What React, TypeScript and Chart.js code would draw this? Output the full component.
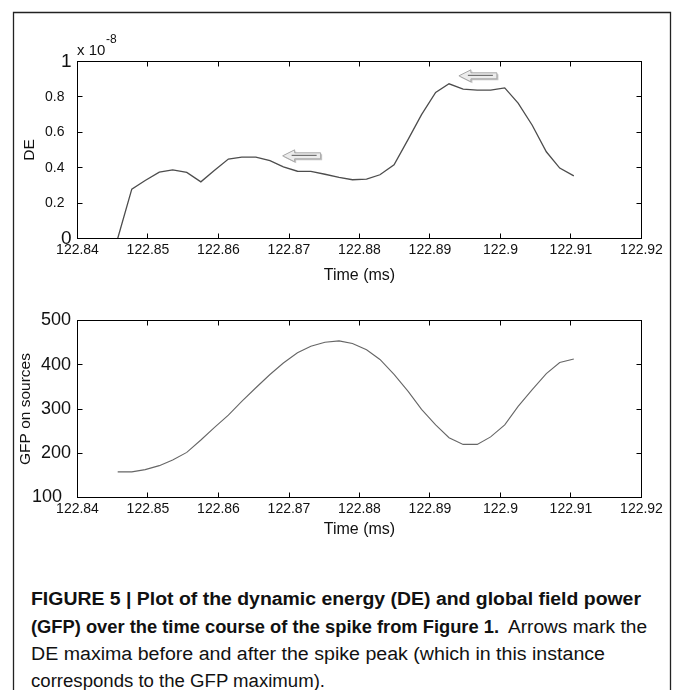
import React, { useEffect, useRef } from 'react';
import { Chart, registerables } from 'chart.js';

Chart.register(...registerables);

// ---- data ----
const timeMs = [
  122.8457, 122.8477, 122.8496, 122.8516, 122.8535, 122.8555, 122.8575, 122.8594,
  122.8614, 122.8633, 122.8653, 122.8673, 122.8692, 122.8712, 122.8731, 122.8751,
  122.8771, 122.879, 122.881, 122.8829, 122.8849, 122.8869, 122.8888, 122.8908,
  122.8927, 122.8947, 122.8967, 122.8986, 122.9006, 122.9025, 122.9045, 122.9065,
  122.9084, 122.9104,
];
// dynamic energy, in units of 1e-8
const deValues = [
  0, 0.279, 0.328, 0.375, 0.388, 0.373, 0.32, 0.384, 0.449, 0.46, 0.46, 0.44,
  0.405, 0.38, 0.379, 0.363, 0.345, 0.332, 0.335, 0.36, 0.416, 0.56, 0.7, 0.825,
  0.874, 0.844, 0.838, 0.838, 0.851, 0.765, 0.64, 0.49, 0.398, 0.354,
];
const gfpValues = [
  158, 158, 163, 172, 185, 202, 230, 258, 286, 317, 348, 378, 404, 427, 442, 451,
  454, 448, 434, 412, 378, 340, 299, 264, 235, 220, 220, 237, 264, 306, 344, 380,
  405, 413,
];
const xTickValues = [122.84, 122.85, 122.86, 122.87, 122.88, 122.89, 122.9, 122.91, 122.92];
const xTickLabels = ['122.84', '122.85', '122.86', '122.87', '122.88', '122.89', '122.9', '122.91', '122.92'];
const deTickValues = [0, 0.2, 0.4, 0.6, 0.8, 1];
const deTickLabels = ['0', '0.2', '0.4', '0.6', '0.8', '1'];
const gfpTickValues = [100, 200, 300, 400, 500];
const gfpTickLabels = ['100', '200', '300', '400', '500'];
// arrow tips (time, DE) marking the DE maxima
const deArrowTips = [
  [122.8691, 0.467],
  [122.8941, 0.919],
];

const FONT = '"Liberation Sans", Arial, Helvetica, sans-serif';
const EN = '\u2002';

const framePlugin = {
  id: 'matlabFrame',
  afterDatasetsDraw(chart: any) {
    const { ctx, chartArea: a, scales } = chart;
    const xs = scales.x;
    const ys = scales.y;
    ctx.save();
    ctx.strokeStyle = '#000';
    ctx.lineWidth = 1;
    ctx.strokeRect(a.left, a.top, a.right - a.left, a.bottom - a.top);
    ctx.beginPath();
    xs.ticks.forEach((t: any) => {
      const px = Math.floor(xs.getPixelForValue(t.value)) + 0.5;
      ctx.moveTo(px, a.bottom);
      ctx.lineTo(px, a.bottom - 5);
      ctx.moveTo(px, a.top);
      ctx.lineTo(px, a.top + 5);
    });
    ys.ticks.forEach((t: any) => {
      const py = Math.floor(ys.getPixelForValue(t.value)) + 0.5;
      ctx.moveTo(a.left, py);
      ctx.lineTo(a.left + 5, py);
      ctx.moveTo(a.right, py);
      ctx.lineTo(a.right - 5, py);
    });
    ctx.stroke();
    ctx.restore();
  },
};

function drawArrow(ctx: CanvasRenderingContext2D, tipX: number, cy: number) {
  const L = 38, head = 12, hh = 6, sh = 3;
  const shape = (dx: number, dy: number) => {
    ctx.beginPath();
    ctx.moveTo(tipX + dx, cy + dy);
    ctx.lineTo(tipX + head + dx, cy - hh + dy);
    ctx.lineTo(tipX + head + dx, cy - sh + dy);
    ctx.lineTo(tipX + L + dx, cy - sh + dy);
    ctx.lineTo(tipX + L + dx, cy + sh + dy);
    ctx.lineTo(tipX + head + dx, cy + sh + dy);
    ctx.lineTo(tipX + head + dx, cy + hh + dy);
    ctx.closePath();
  };
  ctx.save();
  shape(1.5, 1.5);
  ctx.fillStyle = '#c4c4c4';
  ctx.fill();
  shape(0, 0);
  ctx.fillStyle = '#ececec';
  ctx.fill();
  ctx.strokeStyle = '#a6a6a6';
  ctx.lineWidth = 1;
  ctx.stroke();
  ctx.beginPath();
  ctx.moveTo(tipX + 9, cy - 0.5);
  ctx.lineTo(tipX + L - 4, cy - 0.5);
  ctx.strokeStyle = '#5a5a5a';
  ctx.lineWidth = 1;
  ctx.stroke();
  ctx.restore();
}

const deExtrasPlugin = {
  id: 'deExtras',
  afterDraw(chart: any) {
    const { ctx, scales } = chart;
    ctx.save();
    ctx.fillStyle = '#111';
    ctx.textBaseline = 'alphabetic';
    ctx.textAlign = 'left';
    ctx.font = `15px ${FONT}`;
    ctx.fillText('x 10', 77, 55);
    ctx.font = `12px ${FONT}`;
    ctx.fillText('-8', 106, 43);
    ctx.restore();
    deArrowTips.forEach(([t, v]) => {
      drawArrow(ctx, scales.x.getPixelForValue(t), scales.y.getPixelForValue(v));
    });
  },
};

function makeConfig(p: {
  values: number[];
  yMin: number;
  yMax: number;
  yTicks: number[];
  yLabels: string[];
  yLabelText: (i: number) => string;
  yLabelSize: (i: number) => number;
  yTitle: string;
  yTitlePad: number;
  yLabelPad: number;
  padTop: number;
  xAxisHeight: number;
  lineColor: string;
  lineWidth: number;
  extra?: any[];
}): any {
  return {
    type: 'line',
    data: {
      datasets: [
        {
          data: timeMs.map((t, i) => ({ x: t, y: p.values[i] })),
          borderColor: p.lineColor,
          borderWidth: p.lineWidth,
          pointRadius: 0,
          tension: 0,
          fill: false,
        },
      ],
    },
    options: {
      responsive: false,
      animation: false,
      devicePixelRatio: 1,
      layout: { padding: { left: 0, top: p.padTop, right: 37.5, bottom: 0 } },
      plugins: { legend: { display: false }, tooltip: { enabled: false } },
      scales: {
        x: {
          type: 'linear',
          min: 122.84,
          max: 122.92,
          afterBuildTicks: (s: any) => {
            s.ticks = xTickValues.map((v) => ({ value: v }));
          },
          afterFit: (s: any) => {
            s.height = p.xAxisHeight;
          },
          grid: { display: false, drawTicks: false },
          border: { display: false },
          ticks: {
            autoSkip: false,
            maxRotation: 0,
            padding: 3,
            color: '#111',
            font: { family: FONT, size: 14 },
            callback: (_v: any, i: number) => xTickLabels[i],
          },
          title: {
            display: true,
            text: 'Time (ms)',
            color: '#111',
            font: { family: FONT, size: 16 },
            padding: { top: 0, bottom: 14.5 },
          },
        },
        y: {
          type: 'linear',
          min: p.yMin,
          max: p.yMax,
          afterBuildTicks: (s: any) => {
            s.ticks = p.yTicks.map((v) => ({ value: v }));
          },
          afterFit: (s: any) => {
            s.width = 77.5;
          },
          grid: { display: false, drawTicks: false },
          border: { display: false },
          ticks: {
            autoSkip: false,
            padding: p.yLabelPad,
            color: '#111',
            font: (c: any) => ({ family: FONT, size: p.yLabelSize(c.index) }),
            callback: (_v: any, i: number) => p.yLabelText(i),
          },
          title: {
            display: true,
            text: p.yTitle,
            color: '#111',
            font: { family: FONT, size: 15.5 },
            padding: { top: p.yTitlePad, bottom: 0 },
          },
        },
      },
    },
    plugins: [framePlugin, ...(p.extra || [])],
  };
}

export default function App() {
  const deRef = useRef<HTMLCanvasElement>(null);
  const gfpRef = useRef<HTMLCanvasElement>(null);

  useEffect(() => {
    const deLast = deTickLabels.length - 1;
    const c1 = new Chart(
      deRef.current as HTMLCanvasElement,
      makeConfig({
        values: deValues,
        yMin: 0,
        yMax: 1,
        yTicks: deTickValues,
        yLabels: deTickLabels,
        yLabelText: (i) => (i === 0 || i === deLast ? deTickLabels[i] : deTickLabels[i] + EN),
        yLabelSize: (i) => (i === 0 || i === deLast ? 19 : 14),
        yTitle: 'DE',
        yTitlePad: 20.5,
        yLabelPad: 6,
        padTop: 61.5,
        xAxisHeight: 61.5,
        lineColor: '#4d4d4d',
        lineWidth: 1.3,
        extra: [deExtrasPlugin],
      })
    );
    const c2 = new Chart(
      gfpRef.current as HTMLCanvasElement,
      makeConfig({
        values: gfpValues,
        yMin: 100,
        yMax: 500,
        yTicks: gfpTickValues,
        yLabels: gfpTickLabels,
        yLabelText: (i) => (i === 0 ? gfpTickLabels[i] + EN : gfpTickLabels[i]),
        yLabelSize: () => 18,
        yTitle: 'GFP on sources',
        yTitlePad: 16.5,
        yLabelPad: 6.5,
        padTop: 20.5,
        xAxisHeight: 56.5,
        lineColor: '#666',
        lineWidth: 1.1,
      })
    );
    return () => {
      c1.destroy();
      c2.destroy();
    };
  }, []);

  return (
    <div style={{ position: 'absolute', left: 0, top: 0, width: 679, height: 690, background: '#fff', overflow: 'hidden' }}>
      <svg width={679} height={690} style={{ position: 'absolute', left: 0, top: 0 }}>
        <path d="M13.5 690 V12.5 H670.5 V690" fill="none" stroke="#222" strokeWidth={1.3} />
        <g fill="#111" fontFamily={FONT} fontSize={18}>
          <text x={31} y={605} fontWeight="bold" textLength={610} lengthAdjust="spacingAndGlyphs">
            FIGURE 5 | Plot of the dynamic energy (DE) and global field power
          </text>
          <text x={31} y={633} fontWeight="bold" textLength={468} lengthAdjust="spacingAndGlyphs">
            (GFP) over the time course of the spike from Figure 1.
          </text>
          <text x={508} y={633} textLength={139} lengthAdjust="spacingAndGlyphs">
            Arrows mark the
          </text>
          <text x={31} y={660} textLength={574} lengthAdjust="spacingAndGlyphs">
            DE maxima before and after the spike peak (which in this instance
          </text>
          <text x={31} y={687} textLength={294} lengthAdjust="spacingAndGlyphs">
            corresponds to the GFP maximum).
          </text>
        </g>
      </svg>
      <canvas ref={deRef} width={679} height={300} style={{ position: 'absolute', left: 0, top: 0 }} />
      <canvas ref={gfpRef} width={679} height={254} style={{ position: 'absolute', left: 0, top: 300 }} />
    </div>
  );
}
